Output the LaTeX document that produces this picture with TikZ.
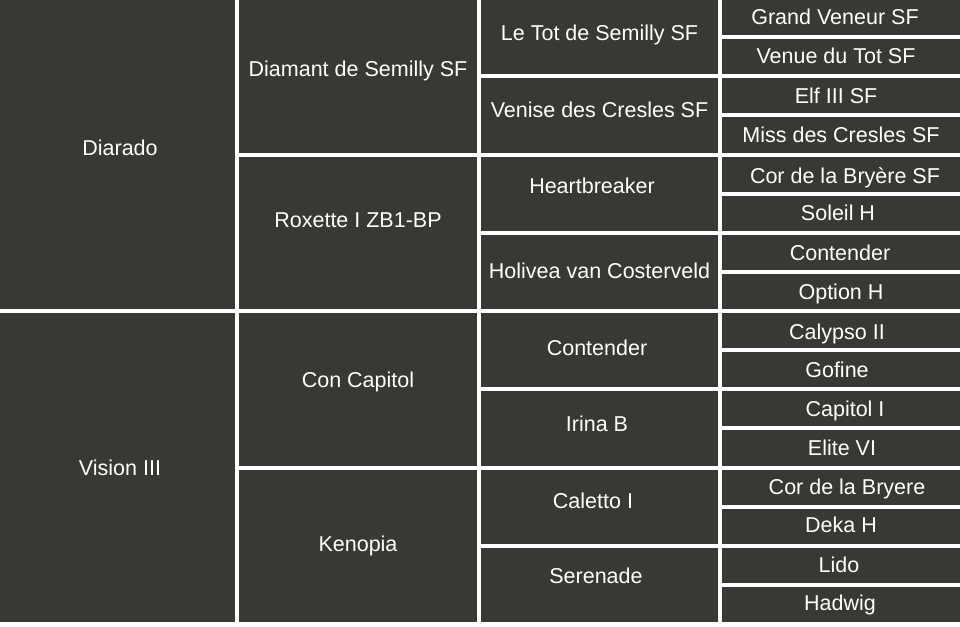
\documentclass[tikz,border=0pt]{standalone}
\usepackage{fontspec}
\setmainfont{Liberation Sans}
\definecolor{cellgray}{HTML}{383834}
\tikzset{
  cell/.style={fill=cellgray},
  horse/.style={text=white, inner sep=0pt, text height=15pt, text depth=0pt,
    font=\fontsize{21.5}{25}\selectfont}
}

\begin{document}
\begin{tikzpicture}[x=1pt, y=-1pt]
\fill[white] (0, 0) rectangle (960, 626);

% Cells, pitch 39.125 per row, 4 gap
\foreach \i in {0,1} \fill[cell] (0, {\i*313}) rectangle (235, {(\i+1)*313-4});
\foreach \i in {0,...,3} \fill[cell] (239, {\i*156.5}) rectangle (477, {(\i+1)*156.5-4});
\foreach \i in {0,...,7} \fill[cell] (481, {\i*78.25}) rectangle (718, {(\i+1)*78.25-4});
\foreach \i in {0,...,15} \fill[cell] (722, {\i*39.125}) rectangle (960, {(\i+1)*39.125-4});

% Generation 1
\node[horse] (diarado) at (120, 148) {Diarado};
\node[horse] (vision) at (120, 468) {Vision III};

% Generation 2
\node[horse] (diamant) at (358, 69) {Diamant de Semilly SF};
\node[horse] (roxette) at (358, 220) {Roxette I ZB1-BP};
\node[horse] (concapitol) at (358, 380) {Con Capitol};
\node[horse] (kenopia) at (358, 544) {Kenopia};

% Generation 3
\node[horse] (letot) at (599.5, 33) {Le Tot de Semilly SF};
\node[horse] (venise) at (599.5, 110) {Venise des Cresles SF};
\node[horse] (heartbreaker) at (592, 186) {Heartbreaker};
\node[horse] (holivea) at (599.5, 271) {Holivea van Costerveld};
\node[horse] (contender) at (597, 348) {Contender};
\node[horse] (irina) at (597, 424) {Irina B};
\node[horse] (caletto) at (593, 501) {Caletto I};
\node[horse] (serenade) at (596, 576) {Serenade};

% Generation 4
\node[horse] (grandveneur) at (835, 17) {Grand Veneur SF};
\node[horse] (venue) at (836, 56) {Venue du Tot SF};
\node[horse] (elf) at (836, 96) {Elf III SF};
\node[horse] (miss) at (841, 135) {Miss des Cresles SF};
\node[horse] (corsf) at (845, 176) {Cor de la Bryère SF};
\node[horse] (soleil) at (838, 213) {Soleil H};
\node[horse] (contender4) at (840, 253) {Contender};
\node[horse] (option) at (841, 292) {Option H};
\node[horse] (calypso) at (837, 332) {Calypso II};
\node[horse] (gofine) at (837, 370) {Gofine};
\node[horse] (capitol) at (845, 409) {Capitol I};
\node[horse] (elite) at (842, 448) {Elite VI};
\node[horse] (cor) at (847, 487) {Cor de la Bryere};
\node[horse] (deka) at (841, 525) {Deka H};
\node[horse] (lido) at (839, 565) {Lido};
\node[horse] (hadwig) at (840, 603) {Hadwig};
\end{tikzpicture}
\end{document}
